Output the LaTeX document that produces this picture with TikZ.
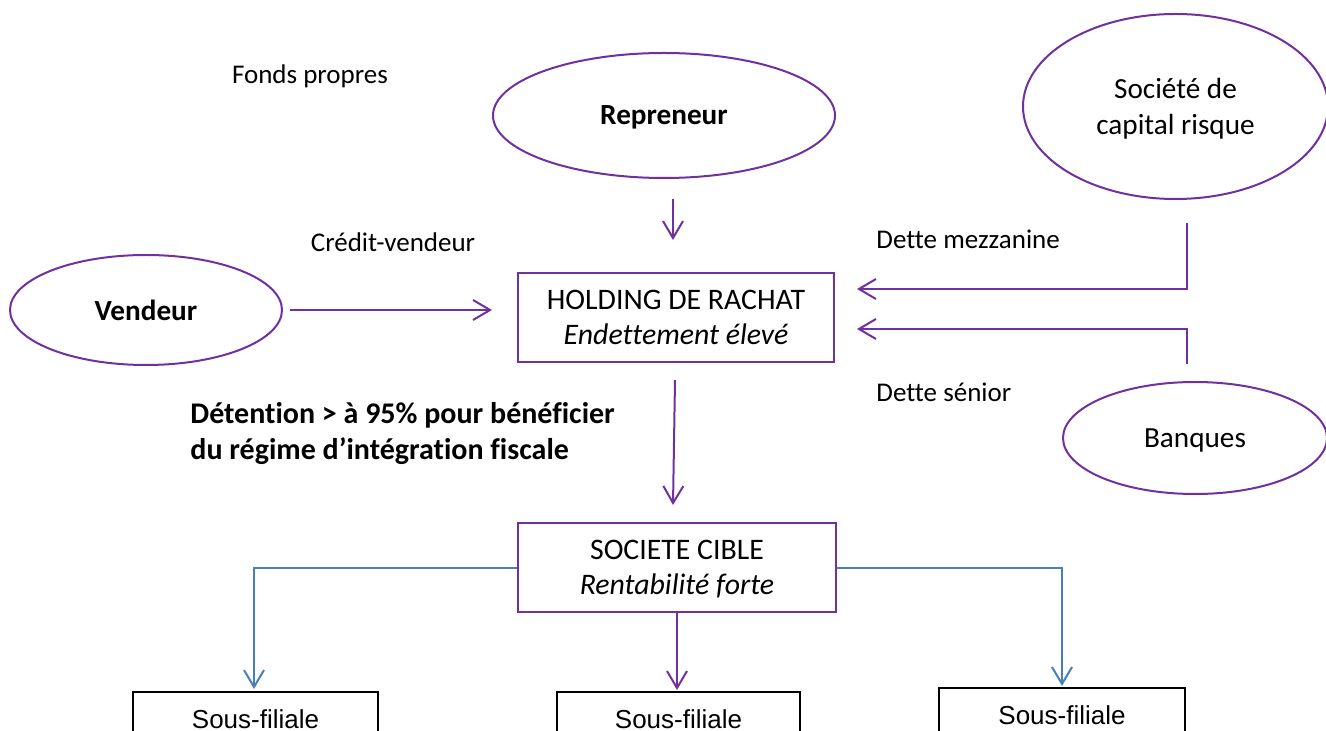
\documentclass[tikz,border=0pt]{standalone}
\usepackage{fontspec}
\setmainfont{Carlito}[Ligatures=NoCommon]
\newfontfamily\subfont{Liberation Sans}
\usetikzlibrary{shapes.geometric,arrows.meta}
\definecolor{lbopurple}{HTML}{7030A0}
\definecolor{lboblue}{HTML}{4A7EBB}
\tikzset{
  oval/.style={ellipse,draw=lbopurple,line width=1pt,inner sep=0pt,text depth=0pt,font=\fontsize{14.6}{18}\selectfont,align=center},
  mainbox/.style={rectangle,draw=lbopurple,line width=1.3pt,inner sep=0pt,text depth=0pt,font=\fontsize{14.9}{17.5}\selectfont,align=center},
  subbox/.style={rectangle,draw=black,line width=0.8pt,inner sep=0pt,anchor=north,font=\subfont\fontsize{13}{15}\selectfont},
  lbl/.style={font=\fontsize{13.5}{16}\selectfont,inner sep=0pt},
  tip/.style={-{Straight Barb[length=8.5pt,width=10pt,line width=1pt]}},
  parr/.style={tip,draw=lbopurple,line width=1pt},
  barr/.style={tip,draw=lboblue,line width=1pt},
}
\begin{document}
\begin{tikzpicture}[x=0.5pt,y=-0.5pt]
\useasboundingbox (0,0) rectangle (1326,731);
\clip (0,0) rectangle (1326,731);
% ellipses
\node[oval,minimum width=171pt,minimum height=62.5pt] (rep) at (664,115.5) {\textbf{Repreneur}};
\node[oval,minimum width=152.5pt,minimum height=92.5pt] (vc) at (1175.5,106.5) {Société de\\capital risque};
\node[oval,minimum width=136pt,minimum height=55pt] (vend) at (146,310) {\textbf{Vendeur}};
\node[oval,minimum width=132pt,minimum height=56pt] (bank) at (1195,438) {Banques};
% boxes
\node[mainbox,minimum width=158pt,minimum height=44.5pt] (hold) at (676,317.5) {HOLDING DE RACHAT\\\textit{Endettement élevé}};
\node[mainbox,minimum width=159pt,minimum height=44.5pt] (cible) at (677,567.5) {SOCIETE CIBLE\\\textit{Rentabilité forte}};
\node[subbox,minimum width=122.5pt,minimum height=27pt] (s1) at (255.5,691) {Sous-filiale};
\node[subbox,minimum width=121.5pt,minimum height=27pt] (s2) at (678.5,691) {Sous-filiale};
\node[subbox,minimum width=123pt,minimum height=27pt] (s3) at (1062,687) {Sous-filiale};
% labels
\node[lbl] (fp) at (310,76) {Fonds propres};
\node[lbl] (cv) at (393,242) {Crédit-vendeur};
\node[lbl,anchor=west] (dm) at (876,239) {Dette mezzanine};
\node[lbl,anchor=west] (ds) at (876,392) {Dette sénior};
\node[lbl,anchor=west,align=left,font=\bfseries\fontsize{15}{18}\selectfont] (det) at (190,434) {Détention > à 95\% pour bénéficier\\du régime d’intégration fiscale};
% connector end points
\coordinate (r1) at (673,199);
\coordinate (r2) at (673,240);
\coordinate (v1) at (290,310);
\coordinate (v2) at (492,310);
\coordinate (m1) at (1187,223);
\coordinate (m2) at (1187,289);
\coordinate (m3) at (857,289);
\coordinate (b1) at (1187,364);
\coordinate (b2) at (1187,329);
\coordinate (b3) at (857,329);
\coordinate (h1) at (675,380);
\coordinate (h2) at (673,505);
\coordinate (c1) at (254,568);
\coordinate (c2) at (254,689);
\coordinate (c3) at (677,612);
\coordinate (c4) at (677,690);
\coordinate (c5) at (1062,568);
\coordinate (c6) at (1062,686);
% connectors
\draw[parr] (r1) -- (r2);
\draw[parr] (v1) -- (v2);
\draw[parr] (m1) -- (m2) -- (m3);
\draw[parr] (b1) -- (b2) -- (b3);
\draw[parr] (h1) -- (h2);
\draw[barr] (cible.west |- c1) -- (c1) -- (c2);
\draw[parr] (c3) -- (c4);
\draw[barr] (cible.east |- c5) -- (c5) -- (c6);
\end{tikzpicture}
\end{document}
